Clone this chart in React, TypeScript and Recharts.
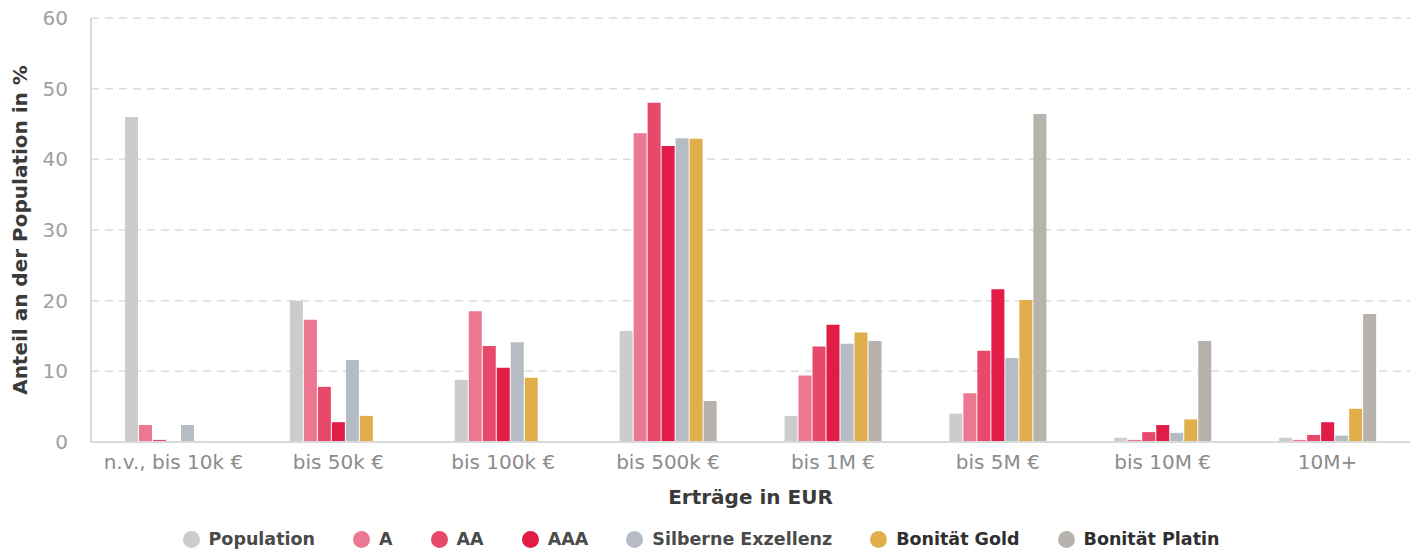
import { Bar, BarChart, CartesianGrid, Legend, XAxis, YAxis } from 'recharts'

const categories = [
  'n.v., bis 10k €',
  'bis 50k €',
  'bis 100k €',
  'bis 500k €',
  'bis 1M €',
  'bis 5M €',
  'bis 10M €',
  '10M+',
]

const population = [46.0, 20.0, 8.8, 15.7, 3.7, 4.0, 0.6, 0.6]
const ratingA = [2.4, 17.3, 18.5, 43.7, 9.4, 6.9, 0.3, 0.3]
const ratingAA = [0.3, 7.8, 13.6, 48.0, 13.5, 12.9, 1.4, 1.0]
const ratingAAA = [0, 2.8, 10.5, 41.9, 16.6, 21.6, 2.4, 2.8]
const silber = [2.4, 11.6, 14.1, 43.0, 13.9, 11.9, 1.3, 0.9]
const gold = [0.15, 3.7, 9.1, 42.9, 15.5, 20.1, 3.2, 4.7]
const platin = [0, 0, 0.1, 5.8, 14.3, 46.4, 14.3, 18.1]

const yTicks = [0, 10, 20, 30, 40, 50, 60]

// series order matches the legend; the last two are printed heavier in the legend
const SERIES = [
  { key: 'population', name: 'Population', color: '#cccccc', strong: false },
  { key: 'a', name: 'A', color: '#ec7790', strong: false },
  { key: 'aa', name: 'AA', color: '#e8496b', strong: false },
  { key: 'aaa', name: 'AAA', color: '#e01c47', strong: false },
  { key: 'silber', name: 'Silberne Exzellenz', color: '#b6bcc4', strong: false },
  { key: 'gold', name: 'Bonität Gold', color: '#e0af4c', strong: true },
  { key: 'platin', name: 'Bonität Platin', color: '#b7b2ab', strong: true },
] as const

const FONT = '"DejaVu Sans", Verdana, sans-serif'
const TICK_COLOR = '#8c8c8c'
const GRID_COLOR = '#dcdcdc'
const AXIS_COLOR = '#d9d9d9'

const chartData = categories.map((label, i) => ({
  label,
  population: population[i],
  a: ratingA[i],
  aa: ratingAA[i],
  aaa: ratingAAA[i],
  silber: silber[i],
  gold: gold[i],
  platin: platin[i],
}))

function ChartLegend() {
  return (
    <div
      style={{
        display: 'flex',
        justifyContent: 'center',
        alignItems: 'center',
        height: 46,
        paddingTop: 16,
        paddingRight: 8,
        boxSizing: 'border-box',
        fontFamily: FONT,
      }}
    >
      {SERIES.map((s, i) => (
        <div
          key={s.key}
          style={{ display: 'flex', alignItems: 'center', marginRight: i === SERIES.length - 1 ? 0 : 38 }}
        >
          <span
            style={{
              width: 17,
              height: 17,
              borderRadius: 9,
              background: s.color,
              marginRight: 9,
              display: 'inline-block',
            }}
          />
          <span
            style={{
              fontSize: 17.5,
              fontWeight: 700,
              color: s.strong ? '#2f2f2f' : '#4a4a4a',
            }}
          >
            {s.name}
          </span>
        </div>
      ))}
    </div>
  )
}

export default function App() {
  return (
    <div style={{ position: 'absolute', left: 0, top: 0, background: '#fff' }}>
      <BarChart
        width={1420}
        height={554}
        data={chartData}
        margin={{ top: 18, right: 10, bottom: 0, left: 0 }}
        barCategoryGap="20%"
        barGap={1}
      >
        <CartesianGrid vertical={false} strokeDasharray="8 6" stroke={GRID_COLOR} strokeWidth={1.5} />
        <XAxis
          dataKey="label"
          height={66}
          tickLine={false}
          axisLine={{ stroke: AXIS_COLOR, strokeWidth: 2 }}
          tickMargin={7}
          interval={0}
          tick={{ fill: TICK_COLOR, fontSize: 20, fontFamily: FONT }}
          label={{
            value: 'Erträge in EUR',
            position: 'insideBottom',
            offset: 4,
            style: { fill: '#3a3a3a', fontSize: 20, fontWeight: 700, fontFamily: FONT },
          }}
        />
        <YAxis
          width={91}
          domain={[0, 60]}
          ticks={yTicks}
          tickLine={false}
          axisLine={{ stroke: AXIS_COLOR, strokeWidth: 2 }}
          tickMargin={17}
          tick={{ fill: '#a0a0a0', fontSize: 20, fontFamily: FONT }}
          label={{
            value: 'Anteil an der Population in %',
            angle: -90,
            position: 'center',
            dx: -26,
            style: { fill: '#3a3a3a', fontSize: 20, fontWeight: 700, fontFamily: FONT, textAnchor: 'middle' },
          }}
        />
        <Legend verticalAlign="bottom" content={() => <ChartLegend />} />
        {SERIES.map((s) => (
          <Bar key={s.key} dataKey={s.key} name={s.name} fill={s.color} barSize={13} isAnimationActive={false} />
        ))}
      </BarChart>
    </div>
  )
}
